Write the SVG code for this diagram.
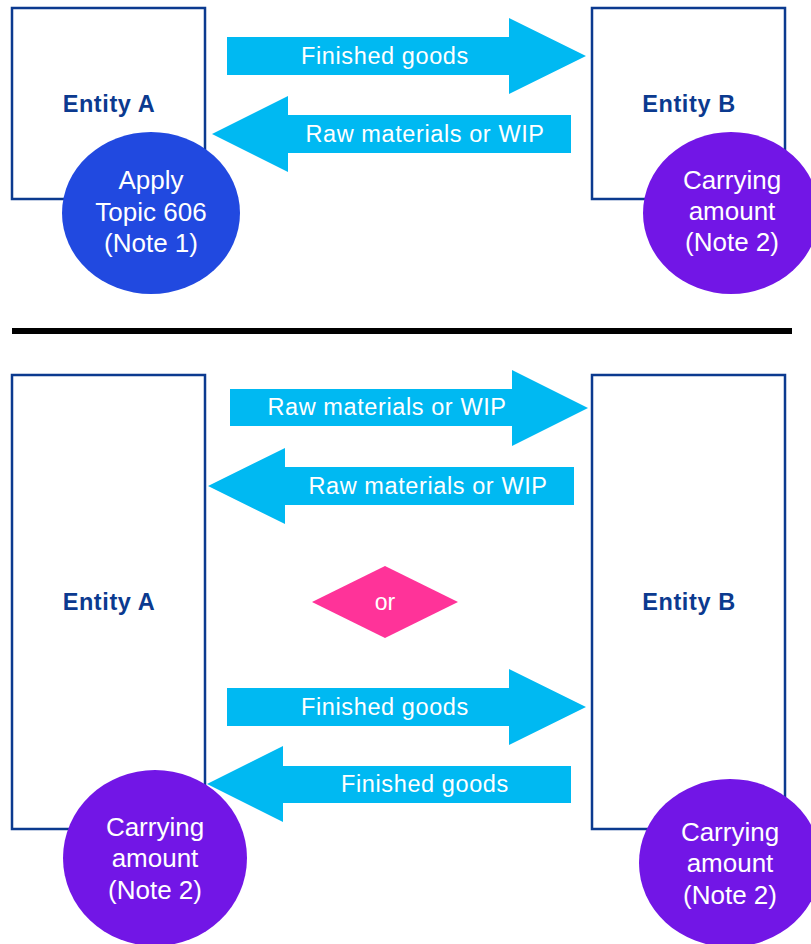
<svg xmlns="http://www.w3.org/2000/svg" width="811" height="944" viewBox="0 0 811 944">
  <style>
    .entity { fill: #ffffff; stroke: #0b3a8f; stroke-width: 2.5; }
    .entity-label { font-family: "Liberation Sans", Arial, sans-serif; font-weight: bold; font-size: 23.5px; fill: #0b3a8f; text-anchor: middle; letter-spacing: 0.6px; }
    .flow { fill: #00b9f2; }
    .flow-label { font-family: "Liberation Sans", Arial, sans-serif; font-size: 23.5px; fill: #ffffff; text-anchor: middle; letter-spacing: 0.6px; }
    .note-label { font-family: "Liberation Sans", Arial, sans-serif; font-size: 26px; fill: #ffffff; text-anchor: middle; }
    .topic { fill: #2149e0; }
    .carrying { fill: #7216e6; }
    .choice { fill: #ff3399; }
  </style>

  <!-- Upper scenario -->
  <g id="entity-a-top">
    <rect class="entity" x="12" y="8" width="193" height="191"/>
    <text class="entity-label" x="109" y="112">Entity A</text>
  </g>
  <g id="entity-b-top">
    <rect class="entity" x="592" y="8" width="193" height="191"/>
    <text class="entity-label" x="689" y="112">Entity B</text>
  </g>
  <g id="note-topic606">
    <ellipse class="topic" cx="151" cy="213" rx="89" ry="81"/>
    <text class="note-label" x="151" y="189">Apply</text>
    <text class="note-label" x="151" y="221">Topic 606</text>
    <text class="note-label" x="151" y="252">(Note 1)</text>
  </g>
  <g id="note-carrying-top">
    <ellipse class="carrying" cx="731" cy="213" rx="88" ry="81"/>
    <text class="note-label" x="732" y="189">Carrying</text>
    <text class="note-label" x="732" y="220">amount</text>
    <text class="note-label" x="732" y="251">(Note 2)</text>
  </g>

  <!-- Divider -->
  <line x1="12" y1="331" x2="792" y2="331" stroke="#000000" stroke-width="6"/>

  <!-- Lower scenario -->
  <g id="entity-a-bottom">
    <rect class="entity" x="12" y="375" width="193" height="454"/>
    <text class="entity-label" x="109" y="610">Entity A</text>
  </g>
  <g id="entity-b-bottom">
    <rect class="entity" x="592" y="375" width="193" height="454"/>
    <text class="entity-label" x="689" y="610">Entity B</text>
  </g>
  <g id="choice-or">
    <polygon class="choice" points="312,602 385,566 458,602 385,638"/>
    <text class="note-label" x="385" y="610" style="font-size:23px">or</text>
  </g>
  <g id="note-carrying-left">
    <ellipse class="carrying" cx="155" cy="858" rx="92" ry="88"/>
    <text class="note-label" x="155" y="836">Carrying</text>
    <text class="note-label" x="155" y="867">amount</text>
    <text class="note-label" x="155" y="899">(Note 2)</text>
  </g>
  <g id="note-carrying-right">
    <ellipse class="carrying" cx="730" cy="863" rx="91" ry="84"/>
    <text class="note-label" x="730" y="841">Carrying</text>
    <text class="note-label" x="730" y="872">amount</text>
    <text class="note-label" x="730" y="904">(Note 2)</text>
  </g>

  <!-- Block arrows (connectors) -->
  <g id="connectors">
    <polygon class="flow" points="227,37 509,37 509,18 586,56 509,94 509,75 227,75"/>
    <text class="flow-label" x="385" y="64">Finished goods</text>

    <polygon class="flow" points="571,115 288,115 288,96 212,134 288,172 288,153 571,153"/>
    <text class="flow-label" x="425" y="142">Raw materials or WIP</text>

    <polygon class="flow" points="230,389 512,389 512,370 588,408 512,446 512,426 230,426"/>
    <text class="flow-label" x="387" y="415">Raw materials or WIP</text>

    <polygon class="flow" points="574,467 285,467 285,448 208,486 285,524 285,505 574,505"/>
    <text class="flow-label" x="428" y="494">Raw materials or WIP</text>

    <polygon class="flow" points="227,688 509,688 509,669 586,707 509,745 509,726 227,726"/>
    <text class="flow-label" x="385" y="715">Finished goods</text>

    <polygon class="flow" points="571,766 283,766 283,746 207,784 283,822 283,803 571,803"/>
    <text class="flow-label" x="425" y="792">Finished goods</text>
  </g>
</svg>
